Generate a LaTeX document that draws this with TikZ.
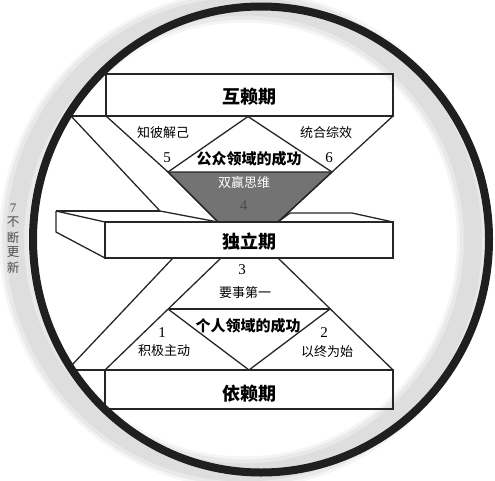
\documentclass[tikz,border=0pt]{standalone}
\usepackage{fontspec}
\newfontfamily\cjk{Noto Sans CJK SC}
\newfontfamily\numfont{Liberation Serif}
\begin{document}
\begin{tikzpicture}[x=1pt,y=-1pt]
\tikzset{
  ln/.style={line width=1.3pt, draw=black!85, line join=miter},
  barlabel/.style={font=\cjk\bfseries\fontsize{18}{18}\selectfont, inner sep=0pt},
  lbl/.style={font=\cjk\fontsize{13}{13}\selectfont, inner sep=0pt},
  boldlbl/.style={font=\cjk\bfseries\fontsize{15}{15}\selectfont, inner sep=0pt},
  num/.style={font=\numfont\fontsize{15}{15}\selectfont, inner sep=0pt},
  vlbl/.style={font=\cjk\fontsize{12.5}{12.5}\selectfont, inner sep=0pt, text=black!70},
}
\useasboundingbox (0,0) rectangle (495,480);
% gray ring (shadow)
\draw[line width=32pt, gray!8] (244,239.5) ellipse [x radius=229, y radius=233];
\draw[line width=26pt, gray!17] (244,239.5) ellipse [x radius=229, y radius=233];
\draw[line width=18pt, gray!26] (244,239.5) ellipse [x radius=229, y radius=233];

% coordinates
\coordinate (TBl) at (106,74);
\coordinate (TBr) at (393,116);
\coordinate (tfl) at (71,116);
\coordinate (tbl) at (106,116);
\coordinate (tbr) at (393,116);
\coordinate (apx) at (248,116.5);
\coordinate (gtl) at (168,172);
\coordinate (gtr) at (332,172);
\coordinate (gbl) at (218,222);
\coordinate (gbr) at (278,222);
\coordinate (bk1) at (160,211);
\coordinate (bk2) at (290,213);
\coordinate (bk3) at (352,213);
\coordinate (blt) at (56,211);
\coordinate (blb) at (56,232);
\coordinate (ftl) at (105,222);
\coordinate (ftr) at (393,222);
\coordinate (fbl) at (105,258);
\coordinate (fbr) at (393,258);
\coordinate (lo1) at (173,258);
\coordinate (lo2) at (71,366);
\coordinate (li1) at (221,258);
\coordinate (li2) at (105,370);
\coordinate (lr1) at (278,258);
\coordinate (lr2) at (393,370);
\coordinate (hl) at (168,309);
\coordinate (hr) at (330,309);
\coordinate (vb) at (249,370);
\coordinate (bfl) at (72,370);
\coordinate (BBr) at (393,409);

% gray trapezoid
\filldraw[ln, fill=black!55] (gtl) -- (gtr) -- (gbr) -- (gbl) -- cycle;
% top bar
\draw[ln] (TBl) rectangle (TBr);
\draw[ln] (tfl) -- (tbl);
% upper band lines
\draw[ln] (tfl) -- (bk1) -- (gbl);
\draw[ln] (tbl) -- (gtl) -- (gbl);
\draw[ln] (tbr) -- (gtr) -- (gbr);
\draw[ln] (gtl) -- (apx) -- (gtr);
% middle box
\draw[ln] (blt) -- (bk1);
\draw[ln] (gbr) -- (bk2) -- (bk3) -- (ftr);
\draw[ln] (blt) -- (ftl);
\draw[ln] (blt) -- (blb) -- (fbl);
\draw[ln] (ftl) rectangle (fbr);
% lower band lines
\draw[ln] (lo1) -- (lo2);
\draw[ln] (li1) -- (li2);
\draw[ln] (lr1) -- (lr2);
\draw[ln] (hl) -- (hr);
\draw[ln] (hl) -- (vb) -- (hr);
% bottom bar
\draw[ln] (bfl) -- (li2);
\draw[ln] (li2) rectangle (BBr);

% black circle
\draw[line width=8pt, black!88] (261,239.5) ellipse [x radius=228, y radius=233];

% labels
\node[barlabel] (hulai) at (249,97) {互赖期};
\node[barlabel] (duli) at (249,242) {独立期};
\node[barlabel] (yilai) at (249,394) {依赖期};
\node[lbl] (zhibi) at (163,133) {知彼解己};
\node[lbl] (tonghe) at (326,133) {统合综效};
\node[num] (n5) at (167,158) {5};
\node[num] (n6) at (329,158) {6};
\node[boldlbl] (gongzhong) at (249,159) {公众领域的成功};
\node[lbl, text=white] (shuangying) at (244,183) {双赢思维};
\node[num, text=black!70] (n4) at (243.5,206) {4};
\node[num] (n3) at (242,270) {3};
\node[lbl] (yaoshi) at (245,293) {要事第一};
\node[boldlbl] (geren) at (248,326) {个人领域的成功};
\node[num] (n1) at (162,333) {1};
\node[lbl] (jiji) at (164,351) {积极主动};
\node[num] (n2) at (324,333) {2};
\node[lbl] (yizhong) at (327,352) {以终为始};
% vertical text
\node[font=\numfont\fontsize{13}{13}\selectfont, inner sep=0pt, text=black!70] (n7) at (13,208) {7};
\node[vlbl] (v1) at (13,222.5) {不};
\node[vlbl] (v2) at (13,237.5) {断};
\node[vlbl] (v3) at (13,252.5) {更};
\node[vlbl] (v4) at (13,267.5) {新};
\end{tikzpicture}
\end{document}
